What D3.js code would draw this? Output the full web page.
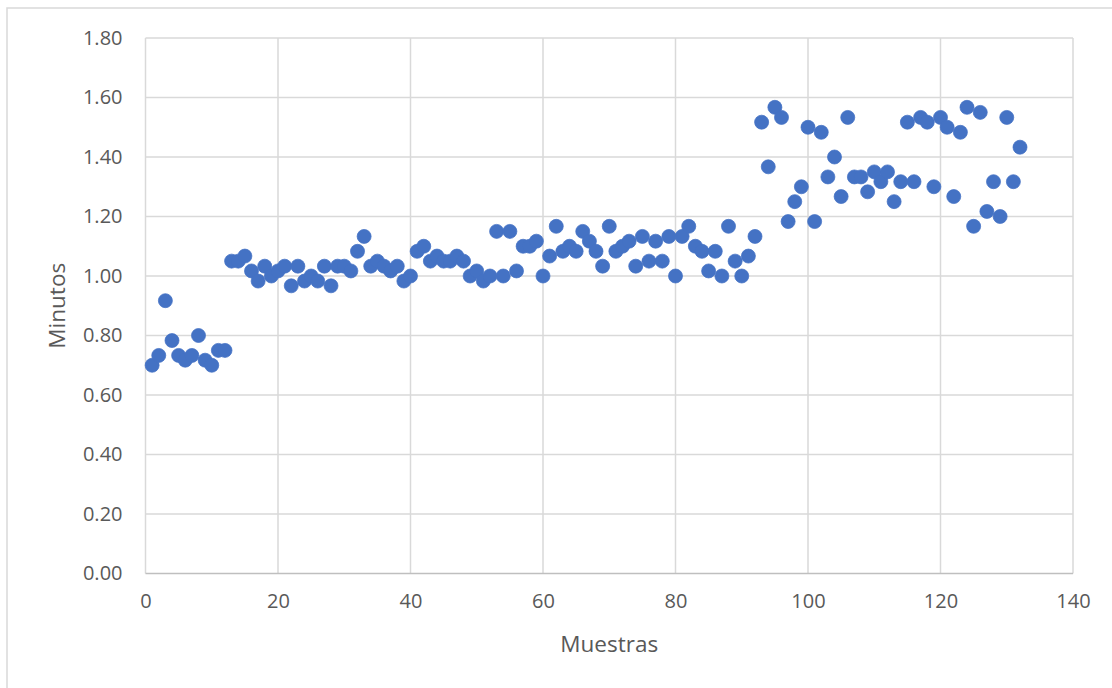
<!DOCTYPE html>
<html>
<head>
<meta charset="utf-8">
<script src="https://cdn.jsdelivr.net/npm/d3@7"></script>
<style>
  html, body { margin: 0; padding: 0; background: #ffffff; }
  svg { display: block; }
</style>
</head>
<body>
<svg id="chart" width="1112" height="688"></svg>
<script>
// ---- data ----
const samples = d3.range(1, 133);
const minutos = [
  0.700, 0.733, 0.917, 0.783, 0.733, 0.717, 0.733, 0.800, 0.717, 0.700,
  0.750, 0.750, 1.050, 1.050, 1.067, 1.017, 0.983, 1.033, 1.000, 1.017,
  1.033, 0.967, 1.033, 0.983, 1.000, 0.983, 1.033, 0.967, 1.033, 1.033,
  1.017, 1.083, 1.133, 1.033, 1.050, 1.033, 1.017, 1.033, 0.983, 1.000,
  1.083, 1.100, 1.050, 1.067, 1.050, 1.050, 1.067, 1.050, 1.000, 1.017,
  0.983, 1.000, 1.150, 1.000, 1.150, 1.017, 1.100, 1.100, 1.117, 1.000,
  1.067, 1.167, 1.083, 1.100, 1.083, 1.150, 1.117, 1.083, 1.033, 1.167,
  1.083, 1.100, 1.117, 1.033, 1.133, 1.050, 1.117, 1.050, 1.133, 1.000,
  1.133, 1.167, 1.100, 1.083, 1.017, 1.083, 1.000, 1.167, 1.050, 1.000,
  1.067, 1.133, 1.517, 1.367, 1.567, 1.533, 1.183, 1.250, 1.300, 1.500,
  1.183, 1.483, 1.333, 1.400, 1.267, 1.533, 1.333, 1.333, 1.283, 1.350,
  1.317, 1.350, 1.250, 1.317, 1.517, 1.317, 1.533, 1.517, 1.300, 1.533,
  1.500, 1.267, 1.483, 1.567, 1.167, 1.550, 1.217, 1.317, 1.200, 1.533,
  1.317, 1.433
];
const xTicks = [0, 20, 40, 60, 80, 100, 120, 140];
const yTicks = [0, 0.2, 0.4, 0.6, 0.8, 1.0, 1.2, 1.4, 1.6, 1.8];
const xTitle = "Muestras";
const yTitle = "Minutos";

// ---- layout ----
const svg = d3.select("#chart");
const pLeft = 145.5, pRight = 1073, pTop = 38, pBottom = 573.5;
const x = d3.scaleLinear().domain([0, 140]).range([pLeft, pRight]);
const y = d3.scaleLinear().domain([0, 1.8]).range([pBottom, pTop]);
const font = "'Open Sans', 'Liberation Sans', sans-serif";
const textColor = "#595959";
const gridColor = "#d9d9d9";

// outer chart border
svg.append("rect")
  .attr("x", 7).attr("y", 8).attr("width", 1200).attr("height", 800)
  .attr("fill", "none").attr("stroke", gridColor).attr("stroke-width", 1.5);

// horizontal gridlines
svg.append("g").selectAll("line").data(yTicks.filter(d => d > 0)).join("line")
  .attr("x1", pLeft).attr("x2", pRight)
  .attr("y1", d => y(d)).attr("y2", d => y(d))
  .attr("stroke", gridColor).attr("stroke-width", 1.5);

// vertical gridlines
svg.append("g").selectAll("line").data(xTicks).join("line")
  .attr("x1", d => x(d)).attr("x2", d => x(d))
  .attr("y1", pTop).attr("y2", pBottom)
  .attr("stroke", gridColor).attr("stroke-width", 1.5);

// x axis line
svg.append("line")
  .attr("x1", pLeft).attr("x2", pRight).attr("y1", pBottom).attr("y2", pBottom)
  .attr("stroke", "#bfbfbf").attr("stroke-width", 1.5);

// y tick labels
const yAxis = d3.axisLeft(y).tickValues(yTicks).tickFormat(d3.format(".2f")).tickSize(0).tickPadding(23);
const gy = svg.append("g").attr("transform", `translate(${pLeft},0)`).call(yAxis);
gy.select(".domain").remove();
gy.selectAll("text").attr("font-family", font).attr("font-size", 20).attr("fill", textColor);

// x tick labels
const xAxis = d3.axisBottom(x).tickValues(xTicks).tickFormat(d3.format("d")).tickSize(0).tickPadding(20);
const gx = svg.append("g").attr("transform", `translate(0,${pBottom})`).call(xAxis);
gx.select(".domain").remove();
gx.selectAll("text").attr("font-family", font).attr("font-size", 20).attr("fill", textColor);

// axis titles
svg.append("text")
  .attr("x", (pLeft + pRight) / 2).attr("y", 651.5)
  .attr("text-anchor", "middle")
  .attr("font-family", font).attr("font-size", 22.5).attr("fill", textColor)
  .text(xTitle);
svg.append("text")
  .attr("transform", `translate(65,${(pTop + pBottom) / 2}) rotate(-90)`)
  .attr("text-anchor", "middle")
  .attr("font-family", font).attr("font-size", 22.5).attr("fill", textColor)
  .text(yTitle);

// points
svg.append("g").selectAll("circle").data(samples.map((s, i) => [s, minutos[i]])).join("circle")
  .attr("cx", d => x(d[0])).attr("cy", d => y(d[1])).attr("r", 7)
  .attr("fill", "#4472c4").attr("stroke", "#4472c4").attr("stroke-width", 0.75);
</script>
</body>
</html>
